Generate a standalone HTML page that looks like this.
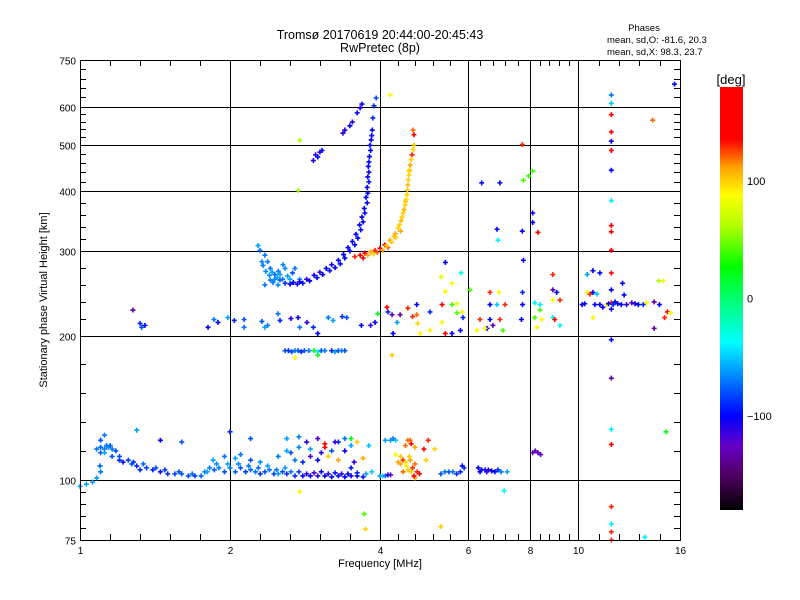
<!DOCTYPE html>
<html><head><meta charset="utf-8"><style>
body{margin:0;background:#fff;}
svg{display:block;font-family:"Liberation Sans",sans-serif;}
</style></head><body>
<svg id="chart" width="800" height="600" viewBox="0 0 800 600">
<defs>
<linearGradient id="cbg" x1="0" y1="1" x2="0" y2="0">
<stop offset="0" stop-color="rgb(0,0,0)"/>
<stop offset="0.0833" stop-color="rgb(80,0,100)"/>
<stop offset="0.1528" stop-color="rgb(100,0,200)"/>
<stop offset="0.2222" stop-color="rgb(0,0,255)"/>
<stop offset="0.3056" stop-color="rgb(0,120,255)"/>
<stop offset="0.3972" stop-color="rgb(0,255,255)"/>
<stop offset="0.4861" stop-color="rgb(0,255,130)"/>
<stop offset="0.575" stop-color="rgb(0,255,0)"/>
<stop offset="0.6667" stop-color="rgb(170,255,0)"/>
<stop offset="0.7444" stop-color="rgb(255,255,0)"/>
<stop offset="0.8111" stop-color="rgb(255,160,0)"/>
<stop offset="0.875" stop-color="rgb(255,0,0)"/>
<stop offset="1" stop-color="rgb(255,0,0)"/>
</linearGradient>
</defs>
<text x="380" y="39" text-anchor="middle" font-size="12.5">Tromsø 20170619 20:44:00-20:45:43</text>
<text x="380" y="52" text-anchor="middle" font-size="12.5">RwPretec (8p)</text>
<text x="644" y="31" text-anchor="middle" font-size="9.5">Phases</text>
<text x="607" y="43" font-size="9.5">mean, sd,O: -81.6, 20.3</text>
<text x="607" y="55" font-size="9.5">mean, sd,X:  98.3, 23.7</text>
<text x="380" y="567" text-anchor="middle" font-size="11">Frequency [MHz]</text>
<text transform="translate(47,300) rotate(-90)" text-anchor="middle" font-size="11">Stationary phase Virtual Height [km]</text>
<g id="grid"></g>
<g id="marks"></g>
<rect x="80.5" y="60.5" width="600" height="480" fill="none" stroke="#000" stroke-width="1"/>
<g id="axes"></g>
<rect x="720" y="87" width="23" height="423" fill="url(#cbg)"/>
<text x="731" y="84" text-anchor="middle" font-size="13">[deg]</text>
<g id="cbticks"></g>
</svg>
<script>
const xTicks=[1,2,4,6,8,10,16];
const yTicks=[75,100,200,300,400,500,600,750];
const cbTicks=[100,0,-100];
const eLayer=[[1.0,97,-60],[1.03,98,-60],[1.06,99,-60],[1.08,101,-60],[1.1,104,-70],[1.097,107,-75],[1.08,116,-70],[1.1,117,-75],[1.12,116,-70],[1.14,117,-65],[1.16,116,-70],[1.18,115,-80],[1.1,114,-75],[1.13,118,-70],[1.16,112,-80],[1.2,110,-90],[1.22,109,-95],[1.25,110,-85],[1.28,109,-90],[1.3,107,-90],[1.32,105,-90],[1.36,106,-85],[1.4,105,-90],[1.45,104,-95],[1.5,103,-90],[1.55,103,-85],[1.6,103,-80],[1.65,102,-80],[1.7,102,-85],[1.75,102,-75],[1.78,104,-70],[1.82,106,-70],[1.86,105,-75],[1.9,106,-70],[1.95,104,-80],[2.0,106,-70],[2.05,104,-75],[2.1,106,-80],[2.15,104,-85],[2.2,105,-75],[2.25,104,-70],[2.3,103,-90],[2.35,104,-80],[2.4,105,-70],[2.45,103,-85],[2.5,103,-60],[2.55,104,-80],[2.6,103,-90],[2.7,102,-90],[2.8,102,-100],[2.9,102,-100],[3.0,102,-110],[3.1,102,-100],[3.2,101.5,-100],[3.3,102,-95],[3.4,101.5,-100],[3.5,102,-105],[3.6,102,-100],[3.7,101.5,-95],[1.85,110,-60],[1.95,112,-70],[2.05,111,-60],[2.1,113,-70],[2.2,110,-80],[2.3,109,-65],[2.5,112,-70],[2.6,115,-60],[2.65,114,-80],[2.75,117,-65],[2.8,109,-90],[2.9,112,-120],[3.0,110,-100],[3.05,114,-110],[3.1,117,150],[3.15,112,100],[3.3,110,110],[3.4,115,-100],[3.3,120,-90],[3.5,118,-60],[3.55,109,-110],[3.7,111,110],[3.8,118,-50],[3.85,104,-50],[3.5,106,-95],[1.45,121,-100],[1.6,120,-80],[2.0,126,-90],[2.2,122,-80],[2.6,122,-60],[2.75,123,-70],[2.85,120,-110],[3.0,122,-120],[3.1,119,150],[3.25,120,-110],[3.4,122,-70],[3.5,122,20],[3.6,120,100],[1.12,124,-70],[1.3,127,-60],[1.1,121,-80],[1.12,114,-60],[1.15,118,-75],[1.2,112,-80],[1.27,108,-80],[1.34,108,-75],[1.42,106,-80],[1.48,105,-85],[1.58,104,-80],[1.68,103,-75],[1.8,104,-60],[1.88,108,-65],[1.98,108,-60],[2.08,108,-65],[2.18,107,-70],[2.28,106,-75],[2.38,107,-60],[2.48,105,-70],[2.58,106,-60],[2.65,104,-70],[2.75,104,-85],[2.85,103,-110],[2.95,103.5,-120],[3.05,104,-100],[3.15,103,-110],[3.25,103.5,-95],[3.35,103,-110],[3.45,103,-100],[3.6,103.5,-90],[3.75,103,-60],[2.7,110,-70],[2.9,116,-60],[3.2,115,-80]];
const eLayerHigh=[[4.0,102,-60],[4.05,102,-50],[4.1,102,-70],[4.15,102.5,-110],[4.2,102.5,-120],[4.35,109,110],[4.45,110,130],[4.5,109,100],[4.6,110,110],[4.7,108,120],[4.65,106,130],[4.55,105,100],[4.75,104,130],[4.7,101,110],[4.8,103,170],[4.4,112,100],[4.3,113,90],[4.5,118,120],[4.62,119,150],[4.7,117,110],[4.1,121,-60],[4.2,121,-60],[4.3,121,-50],[4.55,121,120],[4.6,121,120],[4.25,122,-70],[4.9,116,160],[5.0,121,130],[5.15,116,100],[4.95,110,100],[5.3,103,-80],[5.4,104,-70],[5.5,104,-80],[5.6,104,-70],[5.7,103,-90],[5.8,104,-90],[5.85,107,-100],[5.9,106,-90],[6.3,106,-100],[6.4,105,-110],[6.5,105,-100],[6.6,105,-110],[6.7,104.5,-100],[6.8,104,-100],[6.9,105,-90],[7.0,104,-70],[7.2,104,-60],[8.1,114,-130],[8.3,114,-130],[8.4,113,-125],[8.2,115,-130],[4.4,108,110],[4.52,107,90],[4.62,104,100],[4.68,102,140],[4.45,104,120],[4.58,112,100],[6.35,104,-100],[6.55,104,-110]];
const oTrace=[[2.297,301,-70],[2.35,294,-70],[2.38,285,-70],[2.41,276,-70],[2.46,268,-75],[2.52,261,-80],[2.58,257,-90],[2.64,256,-100],[2.73,256,-100],[2.8,257,-100],[2.89,260,-100],[2.99,264,-100],[3.07,268,-100],[3.17,273,-100],[3.25,277,-100],[3.33,282,-100],[3.40,290,-100],[3.48,300,-100],[3.56,309,-100],[3.61,319,-100],[3.66,332,-100],[3.70,345,-100],[3.73,360,-100],[3.77,378,-100],[3.78,396,-100],[3.80,418,-100],[3.80,438,-100],[3.80,460,-100],[3.83,486,-100],[3.84,511,-100],[3.86,536,-100],[3.87,568,-90],[3.89,602,-90],[3.93,625,-80],[2.318,285,-65],[2.36,272,-65],[2.43,271,-60],[2.46,262,-65],[2.41,261,-70],[2.52,268,-60],[2.58,276,-65],[2.64,262,-60],[2.497,255,-65],[2.35,255,-70],[2.277,308,-60],[2.555,281,-65],[2.70,276,-70],[2.76,262,-65],[2.94,463,-110],[2.97,476,-110],[3.0,471,-100],[3.03,482,-110],[3.06,486,-100],[3.37,528,-110],[3.40,536,-110],[3.48,547,-100],[3.52,557,-110],[3.60,582,-100],[3.65,596,-110],[3.68,607,-100],[2.68,258,-100],[2.76,259,-100],[2.85,262,-110],[2.95,267,-100],[3.03,271,-110],[3.12,276,-100],[3.2,281,-105],[3.3,287,-100],[3.38,295,-100],[3.45,305,-100],[3.52,314,-100],[3.58,325,-100],[3.64,340,-100],[3.68,353,-100],[3.72,368,-100],[3.75,388,-100],[3.77,407,-100],[3.78,428,-100],[3.79,450,-100],[3.81,472,-100],[3.82,498,-100],[3.85,522,-100],[2.44,258,-70],[2.49,264,-60],[2.55,262,-70],[2.61,266,-60],[2.4,267,-65],[2.33,280,-70],[2.5,272,-70],[2.67,270,-80]];
const xTrace=[[3.56,292,130],[3.65,294,150],[3.73,297,140],[3.83,299,110],[3.91,301,130],[4.0,304,150],[4.09,309,140],[4.19,316,110],[4.29,326,110],[4.35,335,100],[4.41,347,105],[4.45,360,100],[4.49,374,100],[4.53,393,100],[4.55,412,105],[4.57,432,100],[4.60,453,110],[4.64,476,130],[4.68,499,100],[4.68,524,140],[4.66,536,120],[3.70,290,140],[3.95,298,120],[4.15,305,120],[4.3,320,100],[4.4,330,110],[4.5,380,100],[4.58,440,100],[3.78,294,110],[3.88,296,100],[4.05,301,110],[4.12,308,100],[4.22,313,100],[4.27,322,105],[4.38,340,100],[4.43,353,100],[4.47,366,105],[4.51,384,100],[4.54,402,100],[4.56,422,100],[4.59,443,100],[4.62,465,100],[4.66,488,100]];
const fLayer=[[1.277,226,-130],[1.32,212,-90],[1.33,208,-80],[1.35,210,-100],[1.807,208,-100],[1.857,216,-70],[1.892,213,-100],[1.98,218,-60],[2.04,215,-90],[2.135,216,-80],[2.135,208,-70],[2.318,214,-80],[2.35,208,-60],[2.38,210,-70],[2.497,222,-70],[2.52,215,-90],[2.65,217,-110],[2.74,218,-100],[2.76,208,-70],[2.854,213,-110],[2.94,208,-90],[3.0,202,-100],[3.15,218,-70],[3.22,215,-60],[3.36,219,-90],[3.43,218,-80],[3.67,210,-100],[3.83,210,-110],[3.91,213,-100],[3.96,222,20],[4.15,224,-90],[4.23,221,-130],[4.33,213,-60],[4.25,202,-100],[4.13,229,160],[4.39,221,-130],[4.55,228,130],[4.65,219,130],[4.74,221,120],[4.76,212,100],[4.74,232,-100],[5.04,224,-90],[5.31,265,80],[5.41,247,90],[5.58,257,90],[5.33,232,140],[5.58,232,40],[5.71,233,80],[5.71,223,40],[5.85,224,90],[5.87,218,-90],[5.33,213,90],[5.41,202,140],[5.58,202,-100],[5.80,205,-100],[4.82,202,90],[5.04,205,90],[5.41,284,-100],[5.82,270,-30],[6.35,216,130],[6.65,232,-100],[6.87,232,-50],[7.13,232,130],[6.93,246,90],[6.65,246,130],[6.56,207,-100],[6.65,216,-100],[6.74,210,-130],[6.96,216,130],[7.06,205,40],[6.50,207,90],[6.26,205,90],[6.06,249,40],[7.73,246,-90],[7.73,232,-100],[7.69,216,-100],[7.76,287,-100],[8.18,234,-40],[8.38,232,-40],[8.38,226,40],[8.18,218,40],[8.26,208,90],[8.45,216,90],[8.89,249,-130],[8.89,237,90],[8.89,268,130],[9.19,237,130],[8.89,218,-40],[9.19,210,-40],[8.97,216,160],[9.05,246,-100],[10.18,232,-100],[10.42,246,90],[10.56,244,130],[10.7,246,-100],[10.9,244,-50],[10.7,273,-100],[11.05,270,-100],[10.42,268,-60],[11.05,232,-100],[11.2,229,-100],[11.4,232,90],[11.65,234,160],[11.85,235,-100],[12.2,232,-100],[12.36,243,-100],[12.8,234,-130],[13.2,232,-100],[13.7,234,90],[14.2,235,-130],[14.55,232,-100],[14.8,260,90],[15.1,224,160],[15.3,223,90],[14.9,218,130],[14.2,207,-130],[10.7,218,90],[12.27,257,-100],[11.65,270,150],[2.58,186,-80],[2.62,186,-90],[2.66,185,-80],[2.70,186,-70],[2.74,186,-80],[2.78,185,-90],[2.82,186,-80],[2.88,186,-70],[2.95,186,20],[3.0,185,-40],[3.05,186,-80],[3.1,186,-70],[3.2,186,-90],[3.25,185,-60],[3.3,186,-80],[3.35,186,-70],[3.4,186,-80],[2.7,180,90],[3.0,182,20],[11.5,233,-100],[11.75,232,-90],[12.0,233,-100],[12.5,232,-110],[13.0,233,-100],[13.5,232,-90],[10.3,233,-100],[10.8,232,-100]];
const column=[[11.65,634,-70],[11.65,609,-50],[11.65,577,150],[11.65,531,160],[11.65,508,-100],[11.65,486,150],[11.65,442,-100],[11.65,382,-40],[11.65,339,160],[11.65,329,160],[11.65,301,150],[11.65,249,-100],[11.65,227,-100],[11.65,196,-100],[11.65,163,-130],[11.65,127.5,-40],[11.65,118.6,150],[11.65,88,130],[11.65,81,-40],[11.65,78,130],[11.65,75,130]];
const scattered=[[2.76,510,60],[2.74,401,60],[4.19,634,90],[6.4,416,-100],[6.96,416,-100],[7.76,421,40],[7.95,430,40],[8.1,440,40],[7.72,500,130],[8.1,360,-100],[8.1,344,-100],[7.72,330,-100],[8.3,328,160],[6.87,333,-100],[6.9,316,-40],[15.6,668,-100],[14.1,562,120],[3.72,85,40],[2.76,94.6,90],[3.74,79,100],[7.1,95,-40],[5.3,80,100],[4.23,182,100],[15.0,126,20],[13.6,76,-40],[14.5,260,60]];
const clusters=[eLayer,eLayerHigh,oTrace,xTrace,fLayer,column,scattered];

const X0=80,X1=680,Y0=540,Y1=60;
const xs=f=>X0+(X1-X0)*Math.log2(f)/4;
const ys=h=>Y0-(Y0-Y1)*Math.log10(h/75);
const cbY=d=>510-(d+180)/360*423;
const stops=[[-180,0,0,0],[-150,80,0,100],[-125,100,0,200],[-100,0,0,255],[-70,0,120,255],[-37,0,255,255],[-5,0,255,130],[27,0,255,0],[60,170,255,0],[88,255,255,0],[112,255,160,0],[135,255,0,0],[180,255,0,0]];
function col(p){for(let i=0;i<stops.length-1;i++){const a=stops[i],b=stops[i+1];if(p<=b[0]){const t=Math.max(0,(p-a[0])/(b[0]-a[0]));return 'rgb('+[1,2,3].map(k=>Math.round(a[k]+(b[k]-a[k])*t)).join(',')+')';}}return 'rgb(255,0,0)';}
const NS='http://www.w3.org/2000/svg';
function mk(tag,attrs,parent){const e=document.createElementNS(NS,tag);for(const k in attrs)e.setAttribute(k,attrs[k]);parent.appendChild(e);return e;}
const grid=document.getElementById('grid'),axes=document.getElementById('axes'),marks=document.getElementById('marks'),cbt=document.getElementById('cbticks');
xTicks.forEach((t,i)=>{const x=Math.round(xs(t))+0.5;
 if(i>0&&i<xTicks.length-1){const g=mk('line',{x1:x,x2:x,y1:60,y2:540,stroke:'#000','stroke-width':1},grid);}
 const l=mk('text',{x:x,y:554,'text-anchor':'middle','font-size':10},axes);l.textContent=t;
 
 
 if(i<xTicks.length-1){const x2=xs(xTicks[i+1]);for(let k=1;k<5;k++){const mx=Math.round(xs(t)+(x2-xs(t))*k/5)+0.5;
  const m=mk('path',{d:'M'+mx+' 540v-6M'+mx+' 60v6',stroke:'#000','stroke-width':1},axes);
  
  }}
});
yTicks.forEach((t,i)=>{const y=Math.round(ys(t))+0.5;
 if(i>0&&i<yTicks.length-1){const g=mk('line',{x1:80,x2:680,y1:y,y2:y,stroke:'#000','stroke-width':1},grid);}
 const l=mk('text',{x:76,y:y+4,'text-anchor':'end','font-size':10},axes);l.textContent=t;
 
 
 if(i<yTicks.length-1){const y2=ys(yTicks[i+1]);for(let k=1;k<5;k++){const my=Math.round(ys(t)+(y2-ys(t))*k/5)+0.5;
  const m=mk('path',{d:'M80 '+my+'h6M680 '+my+'h-6',stroke:'#000','stroke-width':1},axes);
  
  }}
});
clusters.forEach(c=>c.forEach(p=>{const x=xs(p[0]),y=ys(p[1]);
 const m=mk('path',{d:'M'+(x-2.5)+' '+y+'h5M'+x+' '+(y-2.5)+'v5',stroke:col(p[2]),'stroke-width':1.6},marks);
 
 
}));
cbTicks.forEach(d=>{const y=cbY(d);
 const l=mk('text',{x:747,y:y+4,'font-size':11},cbt);l.textContent=d===-100?'\u2212100':d;
 
 
});
</script>
</body></html>
